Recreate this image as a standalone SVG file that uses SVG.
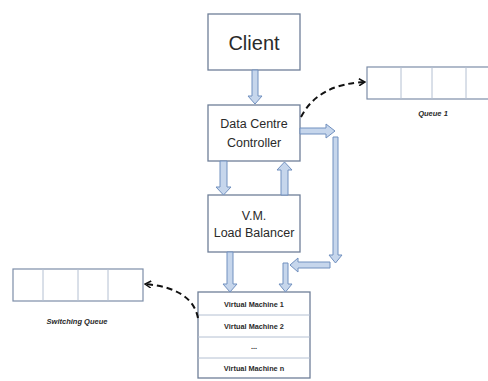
<svg xmlns="http://www.w3.org/2000/svg" width="488" height="381" viewBox="0 0 488 381">
<defs>
<style>
.box{fill:#fff;stroke:#6f7f98;stroke-width:1.3}
.arr{fill:#c6d6ec;stroke:#7190bf;stroke-width:1}
.q{fill:#fff;stroke:#7d8ea8;stroke-width:1.2}
.div{stroke:#b4c0d2;stroke-width:1}
.t{font-family:"Liberation Sans",Arial,sans-serif;fill:#2a2a2a;text-anchor:middle}
.vm{font-family:"Liberation Sans",Arial,sans-serif;font-weight:bold;font-size:7.3px;fill:#2a2a2a;text-anchor:middle}
.ql{font-family:"Liberation Sans",Arial,sans-serif;font-weight:bold;font-style:italic;font-size:7.5px;fill:#2a2a2a;text-anchor:middle}
.dash{fill:none;stroke:#111;stroke-width:2;stroke-dasharray:6,4}
</style>
<marker id="ah" markerWidth="8" markerHeight="8" refX="7" refY="4" orient="auto" markerUnits="userSpaceOnUse">
<path d="M1,0.5 L7,4 L1,7.5" fill="none" stroke="#111" stroke-width="1.5"/>
</marker>
</defs>

<g id="client">
<rect class="box" x="208" y="14" width="92" height="56"/>
<text class="t" x="254" y="50" font-size="20">Client</text>
</g>

<g id="dcc">
<rect class="box" x="208" y="105" width="92" height="56"/>
<text class="t" x="254" y="128" font-size="12.5">Data Centre</text>
<text class="t" x="254" y="147" font-size="12.5">Controller</text>
</g>

<g id="lb">
<rect class="box" x="208" y="195" width="92" height="57"/>
<text class="t" x="254" y="220" font-size="12.5">V.M.</text>
<text class="t" x="254" y="237" font-size="12.5">Load Balancer</text>
</g>

<g id="vms">
<rect class="box" x="198" y="292" width="112" height="86"/>
<line class="div" x1="198" y1="315" x2="310" y2="315"/>
<line class="div" x1="198" y1="337" x2="310" y2="337"/>
<line class="div" x1="198" y1="358" x2="310" y2="358"/>
<text class="vm" x="254" y="307">Virtual Machine 1</text>
<text class="vm" x="254" y="329">Virtual Machine 2</text>
<text class="vm" x="254" y="349">...</text>
<text class="vm" x="254" y="371">Virtual Machine  n</text>
</g>

<g id="queue1">
<rect class="q" x="367" y="67" width="130" height="32"/>
<line class="div" x1="401" y1="67" x2="401" y2="99"/>
<line class="div" x1="432" y1="67" x2="432" y2="99"/>
<line class="div" x1="466" y1="67" x2="466" y2="99"/>
<text class="ql" x="433" y="116">Queue 1</text>
</g>

<g id="switching-queue">
<rect class="q" x="13" y="269" width="130" height="32"/>
<line class="div" x1="43" y1="269" x2="43" y2="301"/>
<line class="div" x1="78" y1="269" x2="78" y2="301"/>
<line class="div" x1="108" y1="269" x2="108" y2="301"/>
<text class="ql" x="77" y="324">Switching Queue</text>
</g>

<g id="connectors">
<polygon class="arr" points="252,70 258,70 258,96 262,96 255,104 248,96 252,96"/>
<polygon class="arr" points="220,161 227,161 227,187 231,187 223.5,195 216,187 220,187"/>
<polygon class="arr" points="281,195 288,195 288,170 292,170 284.5,162 277,170 281,170"/>
<polygon class="arr" points="300,128 326,128 326,124 335,131 326,138 326,134 300,134"/>
<polygon class="arr" points="333,137 338,137 338,255 342,255 335.5,263 329,255 333,255"/>
<polygon class="arr" points="330,262 330,268 298,268 298,272 290,265 298,258 298,262"/>
<polygon class="arr" points="283,263 288,263 288,284 292,284 285.5,292 279,284 283,284"/>
<polygon class="arr" points="227,252 233,252 233,284 237,284 230,292 223,284 227,284"/>
<path class="dash" d="M301,117 Q318,84 365,82" marker-end="url(#ah)"/>
<path class="dash" d="M198,318 Q192,288 145,284" marker-end="url(#ah)"/>
</g>
</svg>
